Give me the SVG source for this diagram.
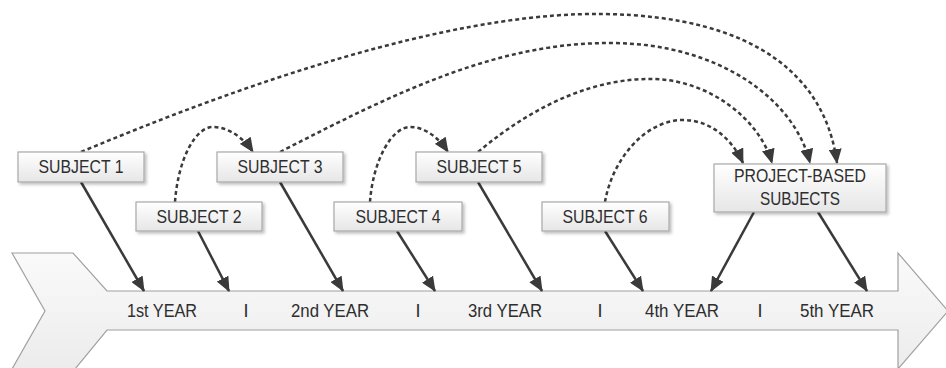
<svg xmlns="http://www.w3.org/2000/svg" width="946" height="368" viewBox="0 0 946 368">
<defs>
<linearGradient id="gBox" x1="0" y1="0" x2="0" y2="1"><stop offset="0" stop-color="#ffffff"/><stop offset="1" stop-color="#e6e6e6"/></linearGradient>
<linearGradient id="gArrow" x1="0" y1="0" x2="0" y2="1"><stop offset="0" stop-color="#fafafa"/><stop offset="1" stop-color="#ececec"/></linearGradient>
<filter id="sh" x="-10%" y="-20%" width="130%" height="160%"><feDropShadow dx="2" dy="2" stdDeviation="1.5" flood-color="#000" flood-opacity="0.25"/></filter>
<marker id="ah" viewBox="0 0 15 13" refX="14" refY="6.5" markerWidth="15" markerHeight="13" markerUnits="userSpaceOnUse" orient="auto"><path d="M0,0 L15,6.5 L0,13 z" fill="#3a3a3a"/></marker>
</defs>
<style>
.box{fill:url(#gBox);stroke:#a8a8a8;stroke-width:1.2;filter:url(#sh)}
.t{font-family:"Liberation Sans",Arial,sans-serif;font-size:18px;fill:#2e2e2e;text-anchor:middle}
.solid{fill:none;stroke:#3a3a3a;stroke-width:2.5;marker-end:url(#ah)}
.dash{fill:none;stroke:#3a3a3a;stroke-width:2.5;stroke-dasharray:4 3;marker-end:url(#ah)}
</style>
<rect width="946" height="368" fill="#fff"/>
<g id="timeline">
<path d="M12,253 L73,253 L107,291 L898,291 L898,253 L948,311 L898,369 L898,330 L107,330 L75,369 L12,369 L45,311 Z" fill="url(#gArrow)" stroke="#a0a0a0" stroke-width="1.2"/>
<text class="t" x="162" y="317" textLength="70" lengthAdjust="spacingAndGlyphs">1st YEAR</text>
<text class="t" x="246" y="317">I</text>
<text class="t" x="330" y="317" textLength="78" lengthAdjust="spacingAndGlyphs">2nd YEAR</text>
<text class="t" x="418" y="317">I</text>
<text class="t" x="505" y="317" textLength="74" lengthAdjust="spacingAndGlyphs">3rd YEAR</text>
<text class="t" x="600" y="317">I</text>
<text class="t" x="682" y="317" textLength="74" lengthAdjust="spacingAndGlyphs">4th YEAR</text>
<text class="t" x="760" y="317">I</text>
<text class="t" x="837" y="317" textLength="74" lengthAdjust="spacingAndGlyphs">5th YEAR</text>
</g>
<g id="connectors">
<path class="solid" d="M81,182 L144,291"/>
<path class="solid" d="M198,231 L229,291"/>
<path class="solid" d="M280,182 L343,291"/>
<path class="solid" d="M397,231 L435,291"/>
<path class="solid" d="M478,182 L542,291"/>
<path class="solid" d="M605,231 L643,291"/>
<path class="solid" d="M754,212 L711,291"/>
<path class="solid" d="M818,212 L867,291"/>
<path class="dash" d="M81,152 C300,60 480,12 603,14 C760,16 826,80 837,163"/>
<path class="dash" d="M280,152 C400,90 500,42 613,43 C720,44 795,100 810,163"/>
<path class="dash" d="M478,152 C540,100 600,78 653,79 C710,80 760,120 772,163"/>
<path class="dash" d="M605,202 C612,160 645,120 683,120 C715,120 735,145 743,163"/>
<path class="dash" d="M175,202 C178,160 195,127 213,127 C230,127 245,140 253,152"/>
<path class="dash" d="M370,202 C373,160 392,127 410,127 C427,127 440,140 448,152"/>
</g>
<g id="subject1"><rect class="box" x="18" y="152" width="126" height="30"/><text class="t" x="81" y="173" textLength="85" lengthAdjust="spacingAndGlyphs">SUBJECT 1</text></g>
<g id="subject2"><rect class="box" x="136" y="202" width="126" height="29"/><text class="t" x="199" y="223" textLength="85" lengthAdjust="spacingAndGlyphs">SUBJECT 2</text></g>
<g id="subject3"><rect class="box" x="217" y="152" width="126" height="30"/><text class="t" x="280" y="173" textLength="85" lengthAdjust="spacingAndGlyphs">SUBJECT 3</text></g>
<g id="subject4"><rect class="box" x="334" y="202" width="128" height="29"/><text class="t" x="398" y="223" textLength="85" lengthAdjust="spacingAndGlyphs">SUBJECT 4</text></g>
<g id="subject5"><rect class="box" x="416" y="152" width="126" height="30"/><text class="t" x="479" y="173" textLength="85" lengthAdjust="spacingAndGlyphs">SUBJECT 5</text></g>
<g id="subject6"><rect class="box" x="542" y="202" width="127" height="29"/><text class="t" x="605" y="223" textLength="85" lengthAdjust="spacingAndGlyphs">SUBJECT 6</text></g>
<g id="project"><rect class="box" x="714" y="164" width="172" height="48"/><text class="t" x="800" y="182" textLength="132" lengthAdjust="spacingAndGlyphs">PROJECT-BASED</text><text class="t" x="800" y="205" textLength="80" lengthAdjust="spacingAndGlyphs">SUBJECTS</text></g>
</svg>
